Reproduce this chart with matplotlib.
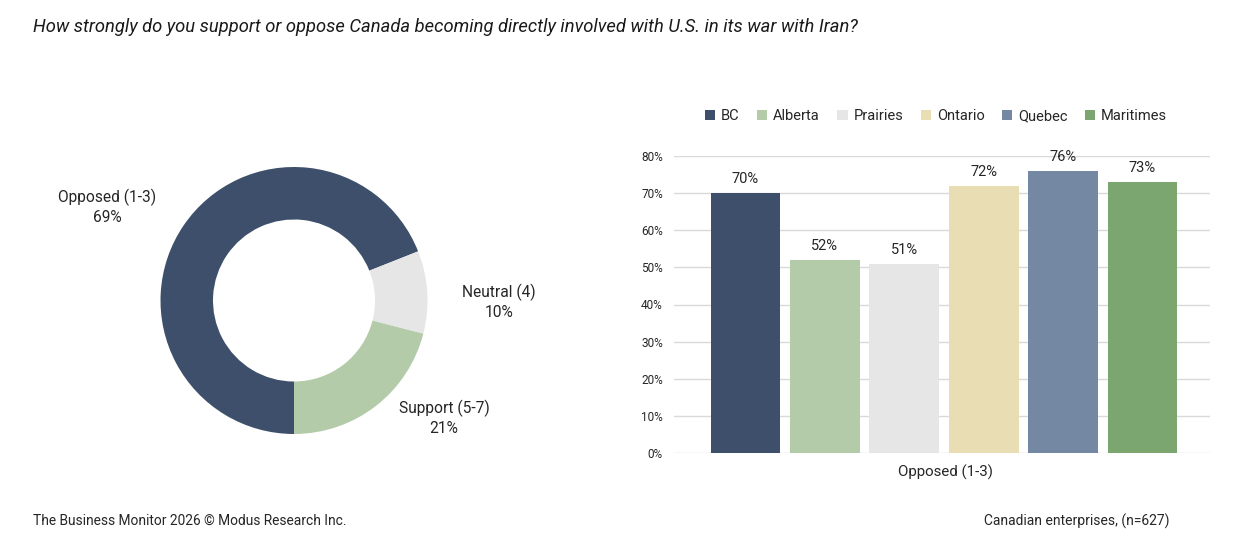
import matplotlib
matplotlib.use("Agg")
import matplotlib.pyplot as plt
from matplotlib.patches import Patch

plt.rcParams['font.family'] = ['Roboto', 'DejaVu Sans']

# ---- data ----
donut_labels = ["Opposed (1-3)", "Neutral (4)", "Support (5-7)"]
donut_values = [69, 10, 21]
donut_colors = ["#3D4F6B", "#E6E6E6", "#B3CBA9"]

regions = ["BC", "Alberta", "Prairies", "Ontario", "Quebec", "Maritimes"]
opposed_values = [70, 52, 51, 72, 76, 73]
region_colors = ["#3D4F6B", "#B3CBA9", "#E6E6E6", "#E9DDB3", "#7588A3", "#7BA66F"]
y_ticks = [0, 10, 20, 30, 40, 50, 60, 70, 80]
x_category = "Opposed (1-3)"

title = "How strongly do you support or oppose Canada becoming directly involved with U.S. in its war with Iran?"
footer_left = "The Business Monitor 2026 \u00a9 Modus Research Inc."
footer_right = "Canadian enterprises, (n=627)"

W, H = 1245, 550
fig = plt.figure(figsize=(W / 100, H / 100), dpi=100)
fig.patch.set_facecolor("white")

def fx(px):
    return px / W

def fy(py):
    return 1 - py / H

text_color = "#262626"

# ---- donut ----
cx, cy, R = 294, 300.5, 133.5
axd = fig.add_axes([fx(cx - R), fy(cy + R), 2 * R / W, 2 * R / H])
axd.pie(donut_values, colors=donut_colors, startangle=-90, counterclock=False,
        radius=1, wedgeprops=dict(width=1 - 81 / 133.5, edgecolor="none"))
axd.set_xlim(-1, 1)
axd.set_ylim(-1, 1)
axd.set_aspect("auto")
axd.axis("off")

label_pos = [(107, 207), (499, 302), (444, 418)]
for lab, val, (px, py) in zip(donut_labels, donut_values, label_pos):
    fig.text(fx(px), fy(py), f"{lab}\n{val}%", ha="center", va="center",
             fontsize=11.2, color=text_color, linespacing=1.3)

# ---- bars ----
left, right, top, bottom = 674, 1210, 156, 453
axb = fig.add_axes([fx(left), fy(bottom), (right - left) / W, (bottom - top) / H])
xs = list(range(len(regions)))
bars = axb.bar(xs, opposed_values, width=0.88, color=region_colors, zorder=3)
for b, v in zip(bars, opposed_values):
    axb.annotate(f"{v}%", (b.get_x() + b.get_width() / 2, v), xytext=(0, 5),
                 textcoords="offset points", ha="center", va="bottom",
                 fontsize=10.5, color=text_color)
axb.set_xlim(-0.9, 5.85)
axb.set_ylim(0, 80)
axb.set_yticks(y_ticks)
axb.set_yticklabels([f"{t}%" for t in y_ticks], fontsize=8.5, color=text_color)
axb.set_xticks([])
axb.yaxis.grid(True, color="#D9D9D9", linewidth=1, zorder=0)
axb.tick_params(axis="y", length=0, pad=8)
for s in axb.spines.values():
    s.set_visible(False)
axb.set_facecolor("none")
fig.text(fx(945), fy(472), x_category, ha="center", va="center",
         fontsize=10.8, color=text_color)

handles = [Patch(facecolor=c, edgecolor="none") for c in region_colors]
fig.legend(handles, regions, loc="center", bbox_to_anchor=(fx(936), fy(116)),
           ncol=6, frameon=False, fontsize=10.5, handlelength=0.7, handleheight=0.7,
           handletextpad=0.4, columnspacing=1.2, labelcolor=text_color)

# ---- texts ----
fig.text(fx(33), fy(27), title, ha="left", va="center", fontsize=13.2,
         style="italic", color="#1a1a1a")
fig.text(fx(33), fy(521), footer_left, ha="left", va="center", fontsize=9.9,
         color=text_color)
fig.text(fx(1170), fy(521), footer_right, ha="right", va="center", fontsize=10,
         color=text_color)

fig.savefig("out.png", dpi=100, facecolor="white")
